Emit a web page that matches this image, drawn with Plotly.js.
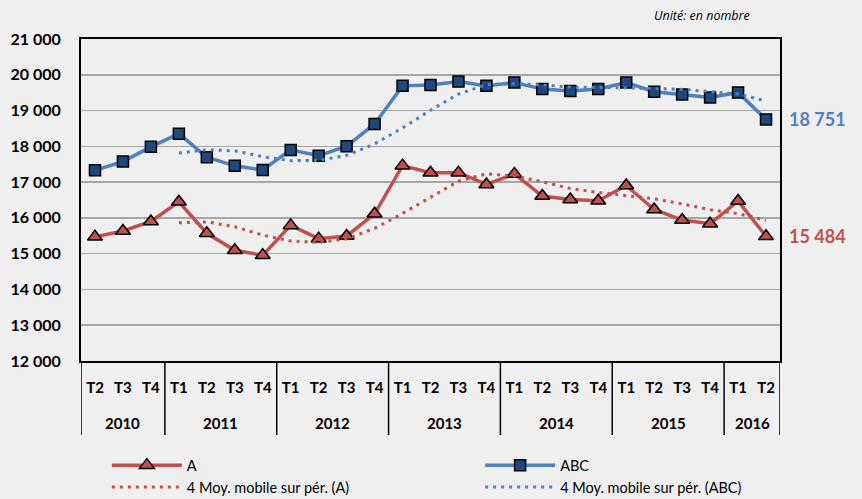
<!DOCTYPE html>
<html>
<head>
<meta charset="utf-8">
<script src="https://cdn.plot.ly/plotly-3.0.1.min.js"></script>
<style>html,body{margin:0;padding:0;background:#efefef;}#chart{width:862px;height:499px;}</style>
</head>
<body>
<div id="chart"></div>
<script>
const years = ["2010","2010","2010","2011","2011","2011","2011","2012","2012","2012","2012","2013","2013","2013","2013","2014","2014","2014","2014","2015","2015","2015","2015","2016","2016"];
const quarters = ["T2","T3","T4","T1","T2","T3","T4","T1","T2","T3","T4","T1","T2","T3","T4","T1","T2","T3","T4","T1","T2","T3","T4","T1","T2"];
const seriesA = [15470,15635,15900,16450,15570,15095,14955,15790,15420,15495,16115,17460,17260,17265,16935,17230,16610,16515,16480,16905,16235,15940,15835,16470,15484];
const seriesABC = [17330,17575,17985,18355,17695,17455,17340,17900,17740,18005,18625,19690,19715,19810,19690,19785,19600,19550,19605,19785,19525,19450,19365,19505,18751];
const maA = [null,null,null,15864,15889,15754,15518,15353,15315,15415,15705,16123,16583,17025,17230,17173,17010,16823,16709,16628,16534,16390,16229,16120,15932];
const maABC = [null,null,null,17811,17903,17873,17711,17598,17609,17746,18068,18515,19009,19460,19726,19750,19721,19656,19635,19635,19616,19591,19531,19461,19268];
const names = ["A","ABC","4 Moy. mobile sur pér. (A)","4 Moy. mobile sur pér. (ABC)"];
const lastLabels = ["18 751","15 484"];

const red = "#c0504d", blue = "#4f81bd", navy = "#1f497d";
const font = "Lato, 'Open Sans', sans-serif";
const idx = quarters.map((q,i)=>i);

// year groups derived from the years array
const groups = [];
years.forEach((y,i)=>{
  if(!groups.length || groups[groups.length-1].year!==y) groups.push({year:y,start:i,end:i});
  else groups[groups.length-1].end = i;
});

const traces = [
  {x:idx, y:seriesA, name:names[0], type:"scatter", mode:"lines+markers", legend:"legend",
   line:{color:red,width:3.5},
   marker:{symbol:"triangle-up",size:13,color:red,line:{color:"#000",width:1.5}}},
  {x:idx, y:seriesABC, name:names[1], type:"scatter", mode:"lines+markers", legend:"legend2",
   line:{color:blue,width:3.5},
   marker:{symbol:"square",size:11,color:navy,line:{color:"#000",width:1.5}}},
  {x:idx, y:maA, name:names[2], type:"scatter", mode:"lines", legend:"legend",
   line:{color:red,width:3,dash:"3px,5px"}, connectgaps:false},
  {x:idx, y:maABC, name:names[3], type:"scatter", mode:"lines", legend:"legend2",
   line:{color:blue,width:3,dash:"3px,5px"}, connectgaps:false}
];

const shapes = [];
const annotations = [];
groups.forEach((g,k)=>{
  if(k===0) shapes.push({type:"line", xref:"x", yref:"paper", x0:g.start-0.5, x1:g.start-0.5, y0:0, y1:-0.23, line:{color:"#000",width:1.5}});
  shapes.push({type:"line", xref:"x", yref:"paper", x0:g.end+0.5, x1:g.end+0.5, y0:0, y1:-0.23, line:{color:"#000",width:1.5}});
  annotations.push({xref:"x", yref:"paper", x:(g.start+g.end)/2, y:-0.192, yanchor:"middle", xanchor:"center",
    text:g.year, showarrow:false, font:{family:font,size:15,color:"#000",weight:"bold"}});
});
annotations.push(
  {xref:"paper", yref:"y", x:1.01, y:seriesABC[seriesABC.length-1], xanchor:"left", yanchor:"middle",
   text:lastLabels[0], showarrow:false, font:{family:font,size:18,color:blue,weight:"bold"}},
  {xref:"paper", yref:"y", x:1.01, y:seriesA[seriesA.length-1], xanchor:"left", yanchor:"middle",
   text:lastLabels[1], showarrow:false, font:{family:font,size:18,color:red,weight:"bold"}},
  {xref:"paper", yref:"paper", x:0.96, y:1.04, xanchor:"right", yanchor:"bottom",
   text:"<i>Unité: en nombre</i>", showarrow:false, font:{family:"'Open Sans', sans-serif",size:12.5,color:"#000"}}
);

const legendBase = {orientation:"v", yanchor:"top", y:-0.274, xanchor:"left", tracegroupgap:0,
  itemwidth:70, bgcolor:"rgba(0,0,0,0)", font:{family:font,size:14.5,color:"#000"}};

const layout = {
  width:862, height:499,
  paper_bgcolor:"#efefef", plot_bgcolor:"#efefef",
  margin:{l:81,r:82,t:39,b:138,autoexpand:false},
  separators:", ",
  font:{family:font,size:13,color:"#000"},
  showlegend:true,
  legend:Object.assign({}, legendBase, {x:0.037}),
  legend2:Object.assign({}, legendBase, {x:0.571}),
  xaxis:{range:[-0.5,quarters.length-0.5], tickmode:"array", tickvals:idx, ticktext:quarters,
         showline:true, linecolor:"#000", linewidth:2, mirror:true, automargin:false,
         showgrid:false, zeroline:false, ticks:"", ticklabelstandoff:12,
         tickfont:{family:font,size:15,color:"#000",weight:"bold"}},
  yaxis:{range:[12000,21000], dtick:1000, tick0:12000, tickformat:",d", automargin:false,
         showline:true, linecolor:"#000", linewidth:2, mirror:true,
         showgrid:true, gridcolor:"#a6a6a6", gridwidth:1.5, zeroline:false,
         ticks:"", ticklabelstandoff:15,
         tickfont:{family:font,size:16,color:"#000",weight:"bold"}},
  shapes:shapes,
  annotations:annotations
};
Plotly.newPlot("chart", traces, layout, {displayModeBar:false, staticPlot:true});
</script>
</body>
</html>
